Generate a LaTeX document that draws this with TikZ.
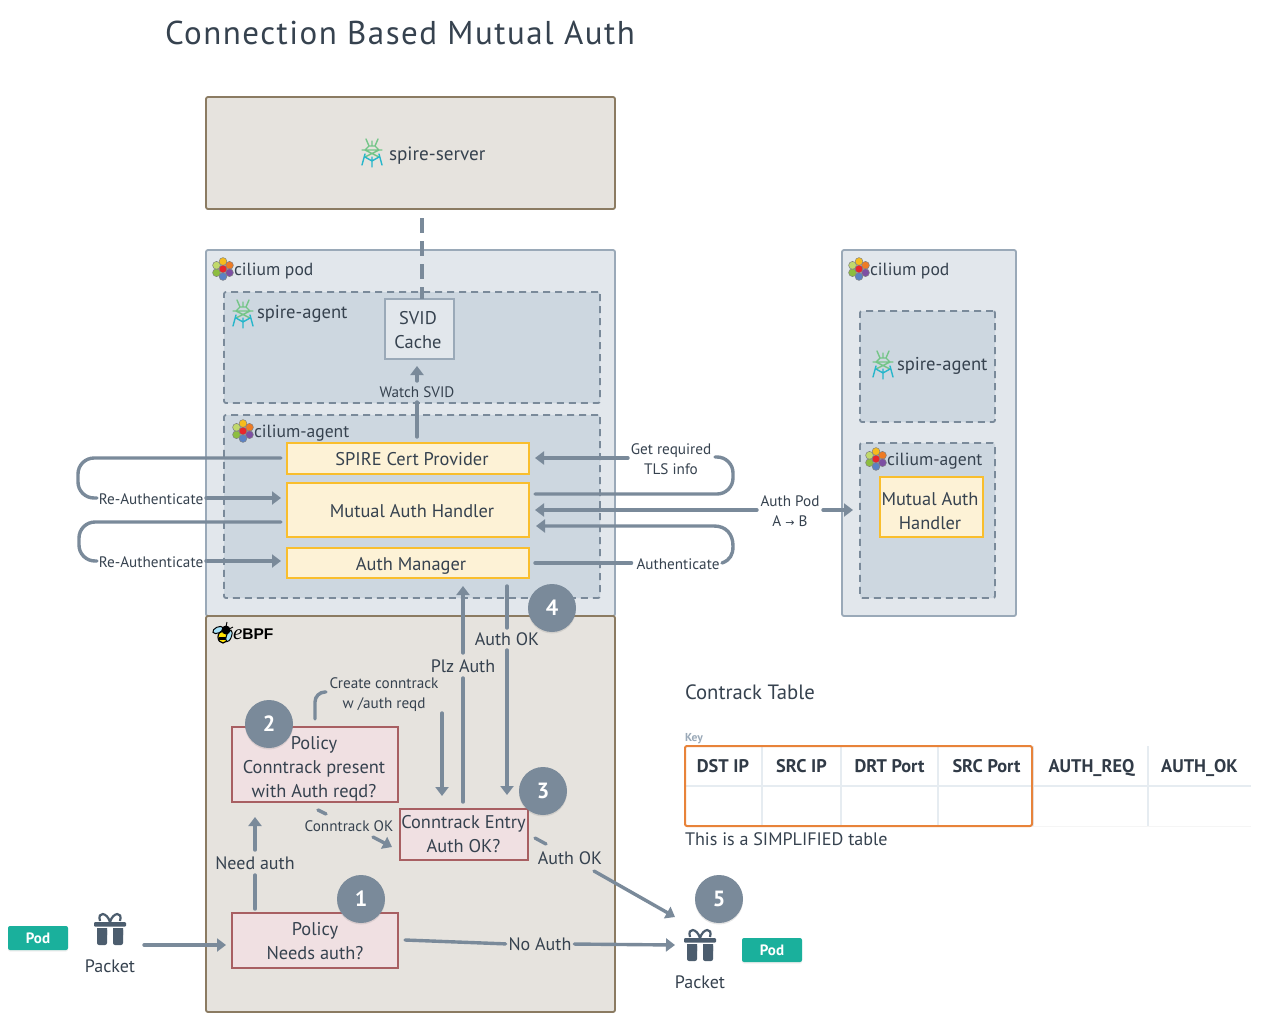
\documentclass[tikz,border=0pt]{standalone}
\usepackage{fontspec}
\setmainfont{PT Sans}
\newfontfamily\ebpfsans{Liberation Sans}
\newfontfamily\ebpfserif{Liberation Serif}
\newfontfamily\arrowfont{DejaVu Sans}
\usetikzlibrary{arrows.meta,shadows,positioning,calc}
\definecolor{ink}{HTML}{36424F}
\definecolor{conn}{HTML}{7A8A9A}
\definecolor{sand}{HTML}{E6E3DE}
\definecolor{sandline}{HTML}{8B7B62}
\definecolor{pale}{HTML}{E2E7EC}
\definecolor{paleline}{HTML}{9AA9B8}
\definecolor{inner}{HTML}{CDD7E0}
\definecolor{cream}{HTML}{FDF2D6}
\definecolor{amber}{HTML}{F9BE2D}
\definecolor{rose}{HTML}{F0E0E2}
\definecolor{roseline}{HTML}{A85F62}
\definecolor{teal}{HTML}{1AB09C}
\definecolor{giftc}{HTML}{4C5D6E}
\definecolor{orangeb}{HTML}{E8833A}
\definecolor{rule}{HTML}{E6ECF1}
\tikzset{
  x=1pt,y=-1pt,
  every node/.style={text=ink,font=\fontsize{18}{24}\selectfont,align=center,inner sep=0pt,outer sep=0pt},
  box/.style={anchor=north west,rounded corners=2pt,line width=1.8pt},
  sandbox/.style={box,draw=sandline,fill=sand},
  podbox/.style={box,draw=paleline,fill=pale},
  dashbox/.style={box,draw=conn,fill=inner,dash pattern=on 7pt off 5pt},
  cachebox/.style={box,rounded corners=0pt,draw=paleline,fill=pale},
  yellowbox/.style={box,rounded corners=0pt,draw=amber,fill=cream},
  redbox/.style={box,rounded corners=0pt,draw=roseline,fill=rose},
  boxtext/.style={font=\fontsize{18.4}{24}\selectfont},
  titletext/.style={anchor=west,font=\fontsize{17.6}{24}\selectfont},
  spiretext/.style={anchor=west,font=\fontsize{18.6}{24}\selectfont},
  small/.style={font=\fontsize{15.2}{20}\selectfont},
  wire/.style={draw=conn,line width=3.4pt,line cap=round},
  arrow/.style={wire,-{Triangle[length=9pt,width=13pt]}},
  dashwire/.style={wire,line cap=butt,dash pattern=on 15pt off 8pt},
  badge/.style={circle,fill=conn,minimum size=48pt,text=white,font=\bfseries\fontsize{22}{24}\selectfont,drop shadow={opacity=.2,shadow xshift=0pt,shadow yshift=-1.5pt}},
  podtag/.style={rounded corners=2pt,fill=teal,minimum width=60pt,minimum height=24pt,text=white,font=\bfseries\fontsize{15}{18}\selectfont,drop shadow={opacity=.12,shadow xshift=0pt,shadow yshift=-1.5pt}},
  headcell/.style={font=\bfseries\fontsize{18.3}{22}\selectfont,text=ink!90!black,text height=13pt,text depth=4pt},
  spireg/.style={draw=#1,line width=1.4pt},
}
\newcommand{\ciliumicon}[2]{%
  \begin{scope}[shift={(#1,#2)}]
    \foreach \dx/\dy/\c in {0/-7.5/F6BC1C,6.5/-3.7/EE7B24,6.5/3.7/7D4FA3,0/7.5/5B82C4,-6.5/3.7/8DBE3F,-6.5/-3.7/C1D96B,0/0/E8262B}{
      \definecolor{hx}{HTML}{\c}
      \fill[hx,draw=black!50,line width=.5pt] (\dx,\dy) circle (3.9pt);
    }
  \end{scope}}
\newcommand{\spireicon}[2]{%
  \begin{scope}[shift={(#1,#2)},line cap=round]
    \definecolor{sg}{HTML}{74C588}\definecolor{st}{HTML}{27B6CB}
    \draw[spireg=sg] (-6,-14)--(-3,-7) (6,-14)--(3,-7) (-10,-3)--(10,-3)
       (-7,-3)--(-3,-7)--(3,-7)--(7,-3) (-7,-3)--(7,4) (7,-3)--(-7,4) (0,-12)--(0,-7);
    \draw[spireg=st] (-7,1)--(-10,12) (7,1)--(10,12) (-7,4)--(0,8)--(7,4) (0,4)--(0,14);
  \end{scope}}
\newcommand{\gifticon}[2]{%
  \begin{scope}[shift={(#1,#2)}]
    \fill[giftc,rounded corners=1pt] (-16,-8) rectangle (16,-3.5);
    \fill[giftc,rounded corners=2pt] (-13,-2) rectangle (-3,15);
    \fill[giftc,rounded corners=2pt] (3,-2) rectangle (13,15);
    \fill[giftc] (-13,-2) rectangle (-3,5) (3,-2) rectangle (13,5);
    \draw[giftc,line width=2.2pt] (0,-8) .. controls (-3,-18) and (-13,-19) .. (-10,-9);
    \draw[giftc,line width=2.2pt] (0,-8) .. controls (3,-18) and (13,-19) .. (10,-9);
  \end{scope}}
\newcommand{\beeicon}[2]{%
  \begin{scope}[shift={(#1,#2)}]
    \fill[yellow!85!orange,draw=black,line width=1.2pt] (0,4) ellipse (5pt and 6pt);
    \fill[black] (-4,4) rectangle (4,6.5);
    \fill[cyan!35,draw=black,line width=1pt,rotate around={25:(-5,-3)}] (-5,-3) ellipse (5.5pt and 3pt);
    \fill[cyan!35,draw=black,line width=1pt,rotate around={70:(6,3)}] (6,3) ellipse (6pt and 2.5pt);
    \fill[black] (3,-3) circle (4.5pt);
    \draw[black,line width=.9pt] (3,-6)--(4,-11) (6,-4)--(10,-6);
  \end{scope}}
\begin{document}
\begin{tikzpicture}
\useasboundingbox (0,0) rectangle (1279,1020);
\fill[white] (0,0) rectangle (1279,1020);

% title
\node[anchor=west,font=\fontsize{33}{36}\selectfont\addfontfeatures{LetterSpace=4.5},text=ink] (title) at (165,33) {Connection Based Mutual Auth};

% containers
\node[sandbox,minimum width=409pt,minimum height=112pt] (server) at (206,97) {};
\node[podbox,minimum width=409pt,minimum height=366pt] (podA) at (206,250) {};
\node[dashbox,minimum width=376pt,minimum height=111pt] (agentA) at (224,292) {};
\node[dashbox,minimum width=376pt,minimum height=183pt] (ciliumA) at (224,415) {};
\node[sandbox,minimum width=409pt,minimum height=396pt] (ebpf) at (206,616) {};
\node[podbox,minimum width=174pt,minimum height=366pt] (podB) at (842,250) {};
\node[dashbox,minimum width=135pt,minimum height=111pt] (agentB) at (860,311) {};
\node[dashbox,minimum width=135pt,minimum height=155pt] (ciliumB) at (860,443) {};

% inner boxes
\node[cachebox,minimum width=69pt,minimum height=60pt] (svid) at (385,299) {};
\node[boxtext] (svidt) at (418,330) {SVID\\Cache};
\node[yellowbox,minimum width=242pt,minimum height=31pt] (spc) at (287,443) {};
\node[boxtext] (spct) at (412,459) {SPIRE Cert Provider};
\node[yellowbox,minimum width=242pt,minimum height=54pt] (mah) at (287,483) {};
\node[boxtext] (maht) at (412,511) {Mutual Auth Handler};
\node[yellowbox,minimum width=242pt,minimum height=30pt] (am) at (287,548) {};
\node[boxtext] (amt) at (411,566) {Auth Manager};
\node[yellowbox,minimum width=103pt,minimum height=60pt] (mahB) at (880,477) {};
\node[boxtext] (mahBt) at (930,511) {Mutual Auth\\Handler};
\node[redbox,minimum width=166pt,minimum height=75pt] (pol2) at (232,727) {};
\node[boxtext] (pol2t) at (314,769) {Policy\\Conntrack present\\with Auth reqd?};
\node[redbox,minimum width=128pt,minimum height=51pt] (entry) at (400,809) {};
\node[boxtext] (entryt) at (463.5,834.5) {Conntrack Entry\\Auth OK?};
\node[redbox,minimum width=166pt,minimum height=55pt] (pol1) at (232,913) {};
\node[boxtext] (pol1t) at (315,941) {Policy\\Needs auth?};

% titles of containers
\spireicon{372}{153}
\node[spiretext,font=\fontsize{19.2}{24}\selectfont] (serverlbl) at (389,156) {spire-server};
\ciliumicon{223}{269}
\node[titletext] (podAlbl) at (234,271) {cilium pod};
\spireicon{243}{314}
\node[spiretext] (agentAlbl) at (257,314) {spire-agent};
\ciliumicon{243}{431}
\node[titletext] (ciliumAlbl) at (254,433) {cilium-agent};
\ciliumicon{859}{269}
\node[titletext] (podBlbl) at (870,271) {cilium pod};
\spireicon{883}{365}
\node[spiretext] (agentBlbl) at (897,366) {spire-agent};
\ciliumicon{876}{459}
\node[titletext] (ciliumBlbl) at (887,461) {cilium-agent};
\beeicon{223}{633}
\node[anchor=west,text=black,font=\fontsize{15.5}{18}\selectfont] (ebpflbl) at (233,634) {{\ebpfserif\itshape\fontsize{21}{18}\selectfont e}{\ebpfsans\bfseries BPF}};

% connector labels
\node[small] (watch) at (417,392) {Watch SVID};
\node[small] (re1) at (151,499) {Re-Authenticate};
\node[small] (re2) at (151,562) {Re-Authenticate};
\node[small] (tls) at (671,459) {Get required\\TLS info};
\node[small] (authpod) at (790,511) {Auth Pod\\A {\arrowfont\fontsize{11}{20}\selectfont →} B};
\node[small] (authn) at (678,564) {Authenticate};
\node (plz) at (463,666) {Plz Auth};
\node (okup) at (507,639) {Auth OK};
\node[small] (create) at (384,695) {Create conntrack\\w /auth reqd};
\node[small] (ctok) at (349,826) {Conntrack OK};
\node (okright) at (570,858) {Auth OK};
\node (need) at (255,863) {Need auth};
\node (noauth) at (540,944) {No Auth};

% packets and pods
\node[podtag] (podL) at (38,938) {Pod};
\gifticon{110}{930}
\node (pktL) at (110,966) {Packet};
\node[podtag] (podR) at (772,950) {Pod};
\gifticon{700}{946}
\node (pktR) at (700,982) {Packet};

% free ends of connectors
\coordinate (giftLout) at (144,945);
\coordinate (giftRin) at (675,945);
\coordinate (giftRtop) at (675,917);
\coordinate (re1out) at (206,498);
\coordinate (re2out) at (206,561);
\coordinate (tlsin) at (628,458);
\coordinate (podin) at (757,510);
\coordinate (podout) at (823,510);
\coordinate (createin) at (442,713);
\coordinate (createin2) at (442,796);

% connectors
\draw[dashwire] (422,218) -- (svid.north -| 422,0);
\draw[wire] (417,437) -- (417,402);
\draw[arrow] (417,381) -- (417,366);

\draw[wire,rounded corners=16pt] (281,458) -- (78,458) -- (78,498) -- (97,498);
\draw[arrow,shorten >=6pt] (re1out) -- (re1out -| mah.west);
\draw[wire,rounded corners=16pt] (281,522) -- (79,522) -- (79,561) -- (97,561);
\draw[arrow,shorten >=6pt] (re2out) -- (re2out -| am.west);

\draw[arrow,shorten >=6pt] (tlsin) -- (tlsin -| spc.east);
\draw[wire,rounded corners=16pt] (535,494) -- (733,494) -- (733,457) -- (715,457);
\draw[arrow,shorten >=6pt] (podin) -- (podin -| mah.east);
\draw[arrow,shorten >=7pt] (podout) -- (podout -| ciliumB.west);
\draw[wire,shorten <=6pt,shorten >=5pt] (am.east) -- (am.east -| authn.west);
\draw[arrow] (722,563) .. controls (730,560) and (733,555) .. (733,546)
   .. controls (733,534) and (726,526) .. (714,526) -- (536,526);

\draw[wire] (463,802) -- (463,678);
\draw[arrow] (463,653) -- (463,586);
\draw[wire] (507,586) -- (507,628);
\draw[arrow] (507,650) -- (507,795);
\draw[wire,rounded corners=10pt] (315,719) -- (315,692) -- (326,692);
\draw[arrow] (createin) -- (createin2);
\draw[wire] (318,810) -- (326,814);
\draw[arrow] (373,837) -- (392,847);
\draw[wire] (535,838) -- (546,844);
\draw[arrow] (594,871) -- (giftRtop);
\draw[wire] (255,909) -- (255,875);
\draw[arrow] (255,850) -- (255,817);
\draw[arrow,shorten >=6pt] (giftLout) -- (giftLout -| pol1.west);
\draw[wire,shorten >=3pt] (405,940) -- (noauth.west);
\draw[arrow,shorten <=3pt] (noauth.east) -- (giftRin);

% step badges
\node[badge] (s1) at (361,899) {1};
\node[badge] (s2) at (269,724) {2};
\node[badge] (s3) at (543,791) {3};
\node[badge] (s4) at (552,608) {4};
\node[badge] (s5) at (719,899) {5};

% table
\node[anchor=west,font=\fontsize{20.7}{24}\selectfont] (tabletitle) at (685,692) {Contrack Table};
\node[anchor=west,text=paleline,font=\bfseries\fontsize{11.5}{14}\selectfont] (keylbl) at (685,739) {Key};
\fill[white,drop shadow={opacity=.08,shadow xshift=0pt,shadow yshift=-1pt}] (685,746) rectangle (1251,826);
\draw[rule,line width=1.5pt] (685,786) -- (1251,786)
  (762,746) -- (762,826) (841,746) -- (841,826) (938,746) -- (938,826) (1033,746) -- (1033,826) (1148,746) -- (1148,826);
\node[headcell] (h1) at (723,768) {DST IP};
\node[headcell] (h2) at (801.5,768) {SRC IP};
\node[headcell] (h3) at (889.5,768) {DRT Port};
\node[headcell] (h4) at (986.5,768) {SRC Port};
\node[headcell] (h5) at (1091.5,768) {AUTH\_REQ};
\node[headcell] (h6) at (1199.5,768) {AUTH\_OK};
\draw[orangeb,line width=2pt,rounded corners=2pt] (685,746) rectangle (1032,826);
\node[anchor=west,font=\fontsize{18.1}{24}\selectfont] (simpl) at (685,839) {This is a SIMPLIFIED table};
\end{tikzpicture}
\end{document}
